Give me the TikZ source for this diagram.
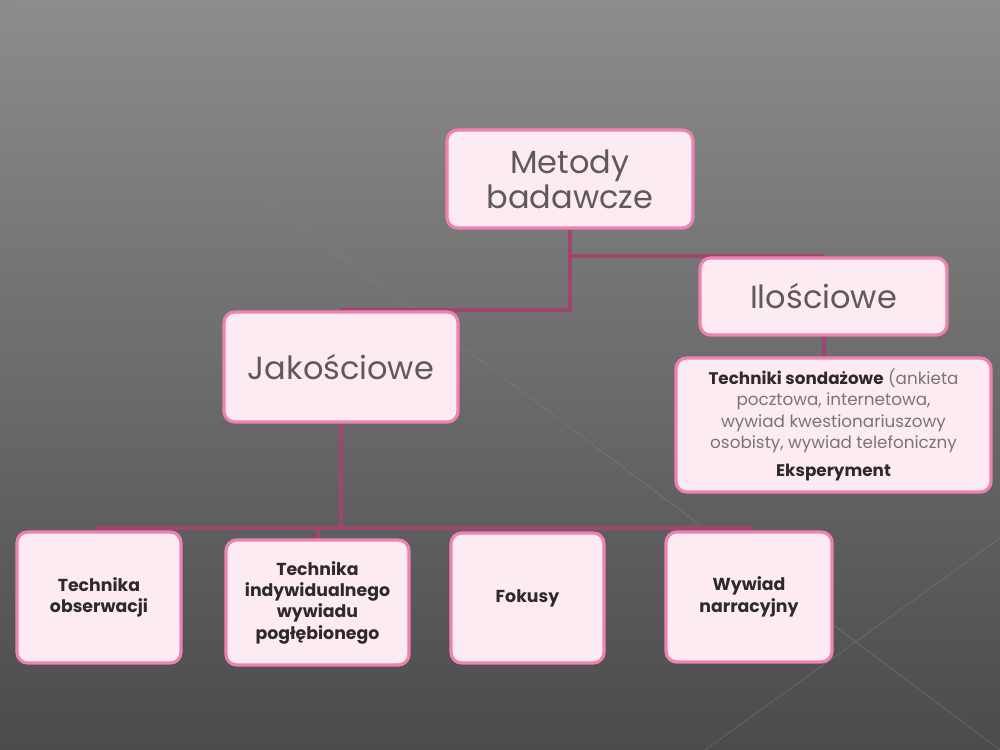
\documentclass[tikz,border=0pt]{standalone}
\usepackage{fontspec}
\setmainfont{Poppins}
\usetikzlibrary{backgrounds}
\definecolor{bgtop}{HTML}{8C8C8C}
\definecolor{bgbot}{HTML}{4B4B4B}
\definecolor{boxfill}{HTML}{FDEBF4}
\definecolor{boxedge}{HTML}{EE82B0}
\definecolor{linkcol}{HTML}{9E4670}
\definecolor{toptext}{HTML}{5E5A5C}
\definecolor{darktext}{HTML}{2E2A2C}
\definecolor{softtext}{HTML}{7A7477}
\definecolor{bgline}{HTML}{8A8A8A}
\tikzset{
  pbox/.style={draw=boxedge, line width=2.4pt, fill=boxfill, rounded corners=8pt, align=center, inner sep=2pt},
  bigtxt/.style={font=\fontsize{24}{26}\selectfont, text=toptext},
  smalltxt/.style={font=\fontsize{13}{16}\selectfont\bfseries, text=darktext},
  link/.style={draw=linkcol, line width=3pt}
}
\begin{document}
\begin{tikzpicture}[x=0.75pt,y=-0.75pt]
\useasboundingbox (0,0) rectangle (1000,750);

\node[pbox, bigtxt, minimum width=184.5pt, minimum height=73.5pt] (metody) at (570,179) {Metody\\badawcze};
\node[pbox, bigtxt, minimum width=185.25pt, minimum height=57.75pt] (ilosc) at (823.5,296.5) {Ilościowe};
\node[pbox, bigtxt, minimum width=175.5pt, minimum height=82.5pt] (jakosc) at (341,367) {Jakościowe};
\node[pbox, minimum width=236.25pt, minimum height=100.5pt, font=\fontsize{12.6}{16}\selectfont, text=softtext] (sond) at (833.5,425)
  {\textcolor{darktext}{\bfseries Techniki sondażowe} (ankieta\\pocztowa, internetowa,\\wywiad kwestionariuszowy\\osobisty, wywiad telefoniczny\\[5pt]\textcolor{darktext}{\bfseries Eksperyment}};
\node[pbox, smalltxt, minimum width=123pt, minimum height=98.25pt] (obs) at (99,597.5) {Technika\\obserwacji};
\node[pbox, smalltxt, minimum width=137.25pt, minimum height=93.75pt] (indyw) at (317.5,602.5) {Technika\\indywidualnego\\wywiadu\\pogłębionego};
\node[pbox, smalltxt, minimum width=114.75pt, minimum height=97.5pt] (fok) at (527.5,598) {Fokusy};
\node[pbox, smalltxt, minimum width=124.5pt, minimum height=97.5pt] (narr) at (749,597) {Wywiad\\narracyjny};

\coordinate (bus) at (341,528);
\begin{scope}[on background layer]
\shade[top color=bgtop, bottom color=bgbot] (0,0) rectangle (1000,750);
\draw[bgline, line width=0.8pt, opacity=0.3] (0,0) -- (1000,750);
\draw[bgline, line width=0.8pt, opacity=0.3] (705,750) -- (1000,538);
\end{scope}
\begin{scope}[on background layer]
\draw[link] (metody.south) |- (jakosc.north);
\draw[link] (metody.south) |- (ilosc.north);
\draw[link] (ilosc.south) -- (ilosc.south |- sond.north);
\draw[link] (jakosc.south) -- (bus);
\draw[link] (bus) -| (obs.north);
\draw[link] (bus) -| (indyw.north);
\draw[link] (bus) -| (fok.north);
\draw[link] (bus) -| (narr.north);
\end{scope}
\end{tikzpicture}
\end{document}
